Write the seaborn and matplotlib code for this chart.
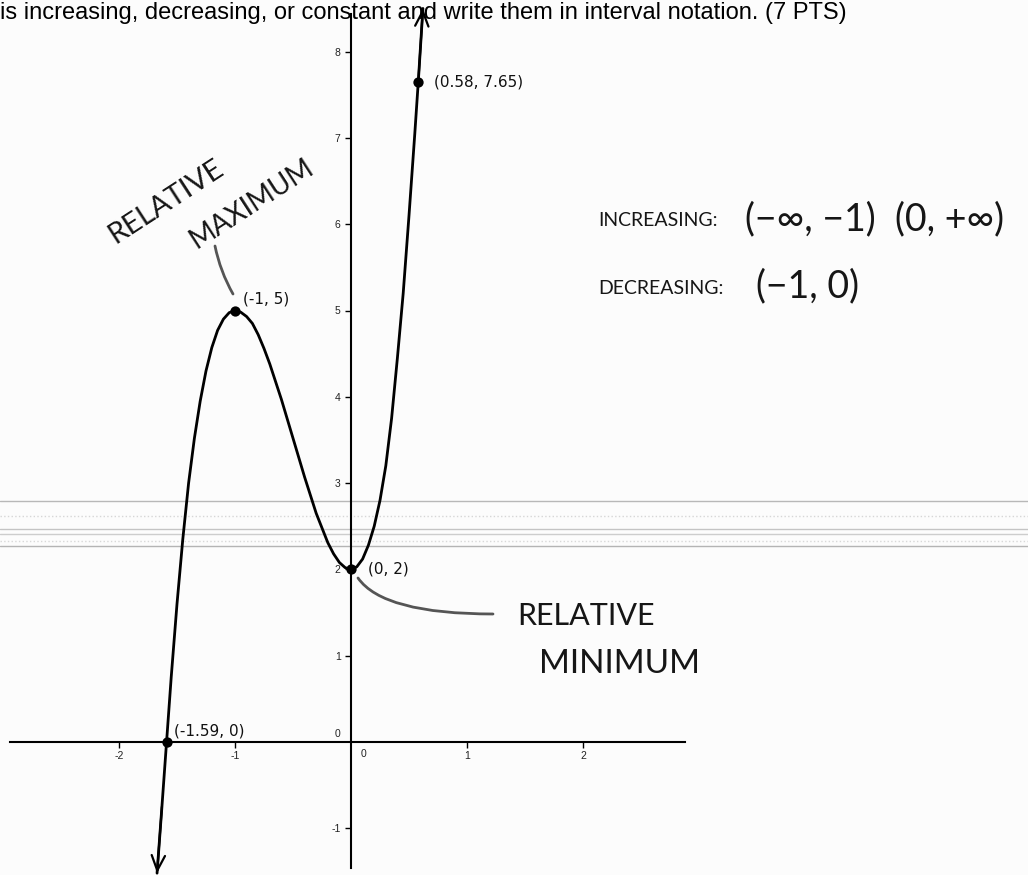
import matplotlib
matplotlib.use("Agg")
import matplotlib.pyplot as plt
from matplotlib.lines import Line2D
import pandas as pd
import seaborn as sns

# ---- data -------------------------------------------------------------
curve_x = [-1.672, -1.63, -1.59, -1.55, -1.50, -1.45, -1.40, -1.35, -1.30, -1.25,
           -1.20, -1.15, -1.10, -1.05, -1.00, -0.95, -0.90, -0.85, -0.80, -0.75,
           -0.70, -0.60, -0.50, -0.40, -0.30, -0.20, -0.15, -0.10, -0.05, 0.00,
           0.05, 0.10, 0.15, 0.20, 0.25, 0.30, 0.35, 0.40, 0.45, 0.50,
           0.55, 0.58, 0.62]
curve_y = [-1.52, -0.75, 0.00, 0.75, 1.60, 2.35, 3.00, 3.52, 3.95, 4.30,
           4.57, 4.77, 4.90, 4.975, 5.00, 4.98, 4.93, 4.85, 4.72, 4.56,
           4.38, 3.97, 3.52, 3.07, 2.65, 2.31, 2.18, 2.08, 2.02, 2.00,
           2.03, 2.12, 2.28, 2.50, 2.80, 3.20, 3.75, 4.45, 5.20, 6.10,
           7.05, 7.65, 8.50]

point_x = [-1.59, -1.0, 0.0, 0.58]
point_y = [0.0, 5.0, 2.0, 7.65]

x_ticks = [-2, -1, 1, 2]
y_ticks = [-1, 1, 2, 3, 4, 5, 6, 7, 8]

increasing_word = "INCREASING:"
increasing_intervals = "(\u2212\u221e, \u22121)  (0, +\u221e)"
decreasing_word = "DECREASING:"
decreasing_intervals = "(\u22121, 0)"
header_text = "is increasing, decreasing, or constant and write them in interval notation. (7 PTS)"

# ---- style ------------------------------------------------------------
sns.set_theme(style="white")
plt.rcParams["font.family"] = ["Liberation Sans", "DejaVu Sans"]

W, H = 1028, 875
paper = "#fcfcfc"
fig = plt.figure(figsize=(W / 100, H / 100), dpi=100)
fig.patch.set_facecolor(paper)
ax = fig.add_axes([0, 0, 1, 1])
ax.set_facecolor(paper)

# grid scale: 116 px per x unit, 86.3 px per y unit, origin at pixel (351, 742)
sx, sy, ox, oy = 116.0, 86.3, 351.0, 742.0
ax.set_xlim(-ox / sx, (W - ox) / sx)
ax.set_ylim(-(H - oy) / sy, oy / sy)


def fig_px(x, y):
    """Figure-fraction position from a pixel position measured from the top-left."""
    return x / W, 1 - y / H


# faint scanner streaks across the page
for yy, col, ls in [(501, "#b8b8b8", "-"), (516, "#d6d6d6", ":"), (529, "#c4c4c4", "-"),
                    (534, "#cdcdcd", "-"), (541, "#d8d8d8", ":"), (546, "#b4b4b4", "-")]:
    ax.add_line(Line2D([0, 1], [1 - yy / H] * 2, transform=ax.transAxes,
                       color=col, lw=1.0, ls=ls, zorder=0.5))

# axes through the origin
for side in ["top", "right"]:
    ax.spines[side].set_visible(False)
ax.spines["left"].set_position(("data", 0))
ax.spines["bottom"].set_position(("data", 0))
ax.spines["left"].set_bounds(-(868 - oy) / sy, (oy - 14) / sy)
ax.spines["bottom"].set_bounds((10 - ox) / sx, (685 - ox) / sx)
for side in ["left", "bottom"]:
    ax.spines[side].set_color("black")
    ax.spines[side].set_linewidth(1.5)
    ax.spines[side].set_zorder(2)

ax.set_xticks(x_ticks)
ax.set_yticks(y_ticks)
ax.set_xticklabels([f"{t:g}" for t in x_ticks])
ax.set_yticklabels([f"{t:g}" for t in y_ticks])
ax.tick_params(axis="both", which="major", direction="out", length=4, width=1.0,
               color="black", labelsize=7.5, labelcolor="#222222")
ax.tick_params(axis="x", pad=2.5, bottom=True)
ax.tick_params(axis="y", pad=3.5, left=True)
ax.text(-0.12, 0.09, "0", fontsize=7.5, color="#222222", ha="center", va="center")
ax.text(0.11, -0.14, "0", fontsize=7.5, color="#222222", ha="center", va="center")

# the curve
df_curve = pd.DataFrame({"x": curve_x, "y": curve_y})
sns.lineplot(data=df_curve, x="x", y="y", sort=False, estimator=None, color="black",
             lw=2.0, ax=ax, zorder=3)
ax.set_xlabel("")
ax.set_ylabel("")

# open arrowheads at both ends of the curve
arrow_kw = dict(arrowstyle="->,head_length=0.9,head_width=0.4", color="black", lw=1.6,
                shrinkA=0, shrinkB=0)
ax.annotate("", xy=(curve_x[-1], curve_y[-1]), xytext=(curve_x[-2], curve_y[-2]),
            arrowprops=arrow_kw, zorder=3)
ax.annotate("", xy=(curve_x[0], curve_y[0]), xytext=(curve_x[1], curve_y[1]),
            arrowprops=arrow_kw, zorder=3)

# labelled points
df_pts = pd.DataFrame({"x": point_x, "y": point_y})
sns.scatterplot(data=df_pts, x="x", y="y", color="black", s=55, edgecolor="black",
                linewidth=0, ax=ax, zorder=4)
ax.set_xlabel("")
ax.set_ylabel("")
offsets = [(5, 8), (5.5, 8.5), (12, 0), (11, 0)]
for px_, py_, off in zip(point_x, point_y, offsets):
    ax.annotate(f"({px_:g}, {py_:g})", xy=(px_, py_), xytext=off, textcoords="offset points",
                fontsize=11, color="#111111", ha="left", va="center",
                family=["DejaVu Sans"])

# handwritten notes
hand = dict(family=["Lato", "DejaVu Sans"], fontweight="normal", color="#161616")
fig.text(*fig_px(598, 220), increasing_word, fontsize=14, ha="left", va="center", **hand)
fig.text(*fig_px(745, 219), increasing_intervals, fontsize=27, ha="left", va="center", **hand)
fig.text(*fig_px(598, 288), decreasing_word, fontsize=14, ha="left", va="center", **hand)
fig.text(*fig_px(756, 286), decreasing_intervals, fontsize=27, ha="left", va="center", **hand)

fig.text(*fig_px(166, 202), "RELATIVE", fontsize=21, rotation=33, rotation_mode="anchor",
         ha="center", va="center", **hand)
fig.text(*fig_px(252, 204), "MAXIMUM", fontsize=20, rotation=33, rotation_mode="anchor",
         ha="center", va="center", **hand)
fig.text(*fig_px(586, 616), "RELATIVE", fontsize=22, ha="center", va="center", **hand)
fig.text(*fig_px(620, 664), "MINIMUM", fontsize=24, ha="center", va="center", **hand)

# pen strokes tying the notes to the extrema
ax.annotate("", xy=(233, H - 294), xycoords="figure pixels",
            xytext=(215, H - 246), textcoords="figure pixels",
            arrowprops=dict(arrowstyle="-", color="#555555", lw=2.0,
                            connectionstyle="arc3,rad=0.08", shrinkA=0, shrinkB=0))
ax.annotate("", xy=(493, H - 614), xycoords="figure pixels",
            xytext=(358, H - 578), textcoords="figure pixels",
            arrowprops=dict(arrowstyle="-", color="#555555", lw=2.0,
                            connectionstyle="angle3,angleA=-55,angleB=0",
                            shrinkA=0, shrinkB=0))

# the question line along the top of the page
fig.text(*fig_px(0, 19), header_text, fontsize=17, ha="left", va="baseline",
         color="black", family=["Liberation Sans", "DejaVu Sans"])

fig.savefig("out.png", dpi=100, facecolor=fig.get_facecolor())
